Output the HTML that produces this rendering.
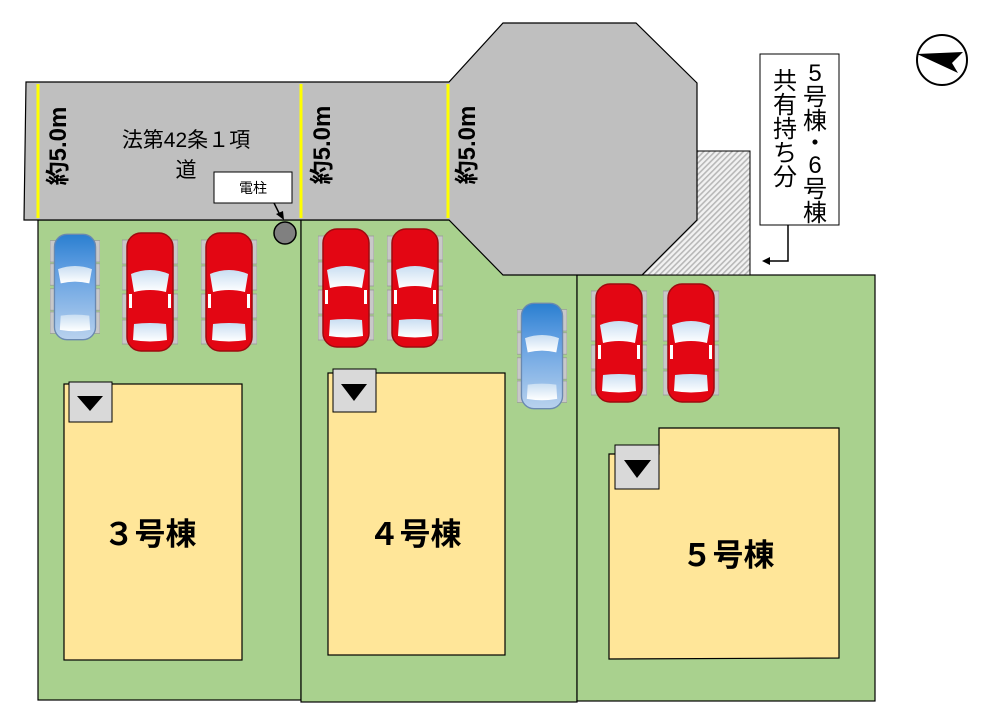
<!DOCTYPE html>
<html><head><meta charset="utf-8"><style>
html,body{margin:0;padding:0;background:#fff}
svg{display:block}
text{font-family:"Liberation Sans","Noto Sans CJK JP",sans-serif}
</style></head><body>
<svg width="985" height="723" viewBox="0 0 985 723" xmlns="http://www.w3.org/2000/svg">
<defs>
<pattern id="hatch" width="4" height="4" patternUnits="userSpaceOnUse" patternTransform="rotate(45)">
<rect width="4" height="4" fill="#f2f2f2"/><rect width="1.6" height="4" fill="#b8b8b8"/>
</pattern>
<linearGradient id="glass" x1="0" y1="0" x2="0" y2="1"><stop offset="0" stop-color="#c9def2"/><stop offset="1" stop-color="#ffffff"/></linearGradient>
<linearGradient id="blueb" x1="0" y1="0" x2="0" y2="1"><stop offset="0" stop-color="#2a7fd0"/><stop offset="0.3" stop-color="#5b9be0"/><stop offset="1" stop-color="#b9d2ee"/></linearGradient>
<symbol id="red" viewBox="0 0 56 120">
<g fill="#c8c8c8" stroke="#999" stroke-width="0.8">
<rect x="0" y="8" width="56" height="24"/><rect x="0" y="34" width="56" height="24"/><rect x="0" y="62" width="56" height="24"/><rect x="0" y="88" width="56" height="24"/></g>
<rect x="5" y="1" width="46" height="118" rx="14" fill="#e30613" stroke="#9e0a0f" stroke-width="1.5"/>
<path d="M9 42 Q28 34 47 42 L44 60 Q28 56 12 60Z" fill="url(#glass)"/>
<path d="M12 92 Q28 90 44 92 L45 108 Q28 111 11 108Z" fill="url(#glass)"/>
<rect x="7" y="62" width="3" height="14" fill="#fff"/><rect x="46" y="62" width="3" height="14" fill="#fff"/>
</symbol>
<symbol id="blue" viewBox="0 0 56 120">
<g fill="#c8c8c8" stroke="#999" stroke-width="0.8">
<rect x="0" y="8" width="56" height="24"/><rect x="0" y="34" width="56" height="24"/><rect x="0" y="62" width="56" height="24"/><rect x="0" y="88" width="56" height="24"/></g>
<rect x="5" y="1" width="46" height="118" rx="14" fill="url(#blueb)" stroke="#6a89b0" stroke-width="1.5"/>
<path d="M9 40 Q28 33 47 40 L44 56 Q28 52 12 56Z" fill="url(#glass)"/>
<path d="M12 92 Q28 90 44 92 L45 108 Q28 111 11 108Z" fill="url(#glass)"/>
</symbol>
</defs>

<!-- lots -->
<rect x="38" y="220" width="263" height="480" fill="#a9d18e" stroke="#000" stroke-width="1.2"/>
<rect x="301" y="220" width="276" height="482" fill="#a9d18e" stroke="#000" stroke-width="1.2"/>
<rect x="577" y="275" width="298" height="426" fill="#a9d18e" stroke="#000" stroke-width="1.2"/>

<!-- hatched -->
<polygon points="697,151 750,151 750,275 642,275 697,220" fill="url(#hatch)" stroke="#000" stroke-width="1"/>

<!-- road -->
<polygon points="26,82 449,82 503,23 636,23 697,83 697,220 642,275 503,275 449,220 24,220" fill="#bfbfbf" stroke="#000" stroke-width="1.2"/>
<line x1="38" y1="84" x2="38" y2="218" stroke="#ffff00" stroke-width="3"/>
<line x1="301" y1="84" x2="301" y2="218" stroke="#ffff00" stroke-width="3"/>
<line x1="448" y1="84" x2="448" y2="218" stroke="#ffff00" stroke-width="3"/>
<text x="0" y="0" font-size="24" font-weight="bold" text-anchor="middle" transform="translate(66,146) rotate(-90)">約5.0m</text>
<text x="0" y="0" font-size="24" font-weight="bold" text-anchor="middle" transform="translate(330,145) rotate(-90)">約5.0m</text>
<text x="0" y="0" font-size="24" font-weight="bold" text-anchor="middle" transform="translate(475,145) rotate(-90)">約5.0m</text>
<text x="186" y="147" font-size="21" text-anchor="middle">法第42条１項</text>
<text x="186" y="177" font-size="21" text-anchor="middle">道</text>

<!-- pole -->
<rect x="214" y="172" width="78" height="31" fill="#fff" stroke="#000"/>
<text x="253" y="193" font-size="14" text-anchor="middle">電柱</text>
<line x1="274" y1="203" x2="280" y2="215" stroke="#000" stroke-width="1.5"/>
<polygon points="276,214 284,220 283,211" fill="#000"/>
<circle cx="285" cy="233" r="11" fill="#808080" stroke="#000" stroke-width="1.5"/>

<!-- cars -->
<use href="#blue" x="50" y="233" width="50" height="108"/>
<use href="#red" x="122" y="232" width="56" height="120"/>
<use href="#red" x="201" y="232" width="56" height="120"/>
<use href="#red" x="318" y="228" width="56" height="120"/>
<use href="#red" x="387" y="228" width="56" height="120"/>
<use href="#blue" x="517" y="302" width="50" height="108"/>
<use href="#red" x="591" y="283" width="56" height="120"/>
<use href="#red" x="663" y="283" width="56" height="120"/>

<!-- houses -->
<rect x="64" y="384" width="178" height="276" fill="#ffe699" stroke="#000" stroke-width="1.2"/>
<rect x="69" y="382" width="43" height="40" fill="#d9d9d9" stroke="#000"/>
<polygon points="77,396 103,396 90,411" fill="#000"/>
<text x="150" y="545" font-size="31" font-weight="bold" text-anchor="middle">３号棟</text>

<rect x="328" y="373" width="177" height="282" fill="#ffe699" stroke="#000" stroke-width="1.2"/>
<rect x="333" y="369" width="43" height="43" fill="#d9d9d9" stroke="#000"/>
<polygon points="341,384 367,384 354,401" fill="#000"/>
<text x="415" y="545" font-size="31" font-weight="bold" text-anchor="middle">４号棟</text>

<polygon points="609,454 659,454 659,428 839,428 839,658 609,659" fill="#ffe699" stroke="#000" stroke-width="1.2"/>
<rect x="615" y="445" width="44" height="44" fill="#d9d9d9" stroke="#000"/>
<polygon points="624,460 651,460 637,478" fill="#000"/>
<text x="728" y="566" font-size="31" font-weight="bold" text-anchor="middle">５号棟</text>

<!-- label box -->
<rect x="760" y="54" width="79" height="171" fill="#fff" stroke="#000"/>
<text font-size="24" text-anchor="middle">
<tspan x="815" y="81">5</tspan><tspan x="815" y="105">号</tspan><tspan x="815" y="129">棟</tspan><tspan x="815" y="151">・</tspan><tspan x="815" y="173">6</tspan><tspan x="815" y="197">号</tspan><tspan x="815" y="221">棟</tspan>
</text>
<text font-size="24" text-anchor="middle">
<tspan x="785" y="89">共</tspan><tspan x="785" y="113">有</tspan><tspan x="785" y="137">持</tspan><tspan x="785" y="161">ち</tspan><tspan x="785" y="185">分</tspan>
</text>
<polyline points="788,225 788,261 768,261" fill="none" stroke="#000" stroke-width="1.5"/>
<polygon points="762,261 770,257 770,265" fill="#000"/>

<!-- compass -->
<circle cx="942" cy="60" r="25" fill="#fff" stroke="#000" stroke-width="2"/>
<polygon points="917,54 963,52 952,63 958,73" fill="#000"/>
</svg>
</body></html>
